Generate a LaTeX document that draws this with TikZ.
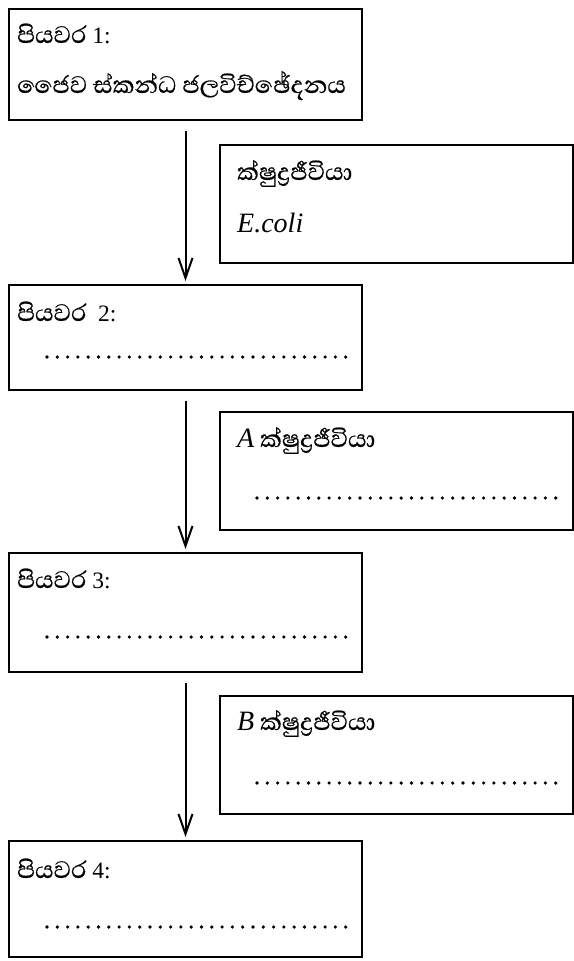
\documentclass[tikz,border=0pt]{standalone}
\usepackage{fontspec}
\usepackage{tikz}
\usetikzlibrary{arrows.meta}
\setmainfont{Liberation Serif}
\newfontfamily\sinhala[Script=Sinhala, Scale=1.3, FakeBold=0.5]{Abhaya Libre}
\newcommand{\bigit}{\fontsize{28}{32}\selectfont\itshape}

\begin{document}
\begin{tikzpicture}[x=1pt, y=-1pt]
    \tikzstyle{step box}=[
        draw = black,
        line width = 2pt,
        minimum width = 353pt,
        inner sep = 0pt
    ]
    \tikzstyle{label}=[
        anchor = base west,
        inner sep = 0pt,
        font = \fontsize{23.5}{27}\selectfont
    ]
    \tikzstyle{answer}=[
        line width = 3.6pt,
        line cap = round,
        dash pattern = on 0pt off 10.3pt
    ]
    \tikzstyle{flow}=[
        line width = 2pt,
        -{Straight Barb[length=20pt, width=14pt, line width=2pt]},
        shorten <= 10pt,
        shorten >= 3pt
    ]

    \useasboundingbox (0,0) rectangle (573,961);

	\node[step box, minimum height = 111pt] (s1) at (185.5, 64.5)  {};
	\node[step box, minimum height = 118pt] (m1) at (396, 204)     {};
	\node[step box, minimum height = 105pt] (s2) at (185.5, 337.5) {};
	\node[step box, minimum height = 118pt] (m2) at (396, 471)     {};
	\node[step box, minimum height = 119pt] (s3) at (185.5, 612.5) {};
	\node[step box, minimum height = 118pt] (m3) at (396, 755)     {};
	\node[step box, minimum height = 116pt] (s4) at (185.5, 899)   {};

	\node[label] (s1a) at (17, 43)   {{\sinhala පියවර} 1:};
	\node[label] (s1b) at (17, 93)   {\sinhala ජෛව ස්කන්ධ ජලවිච්ඡේදනය};
	\node[label] (m1a) at (237, 180) {\sinhala ක්ෂුද්^^^^200dරජීවියා};
	\node[label] (m1b) at (237, 232) {\bigit E.coli};
	\node[label] (s2a) at (17, 321)  {{\sinhala පියවර}\ \ 2:};
	\node[label] (m2a) at (237, 447) {{\bigit A} {\sinhala ක්ෂුද්^^^^200dරජීවියා}};
	\node[label] (s3a) at (17, 588)  {{\sinhala පියවර} 3:};
	\node[label] (m3a) at (237, 730) {{\bigit B} {\sinhala ක්ෂුද්^^^^200dරජීවියා}};
	\node[label] (s4a) at (17, 878)  {{\sinhala පියවර} 4:};

	\draw[answer] (47, 357) -- (346, 357);
	\draw[answer] (257, 498) -- (556, 498);
	\draw[answer] (47, 637) -- (346, 637);
	\draw[answer] (257, 783) -- (556, 783);
	\draw[answer] (47, 927) -- (346, 927);

	\draw[flow] (s1.south) -- (s2.north);
	\draw[flow] (s2.south) -- (s3.north);
	\draw[flow] (s3.south) -- (s4.north);

\end{tikzpicture}
\end{document}
